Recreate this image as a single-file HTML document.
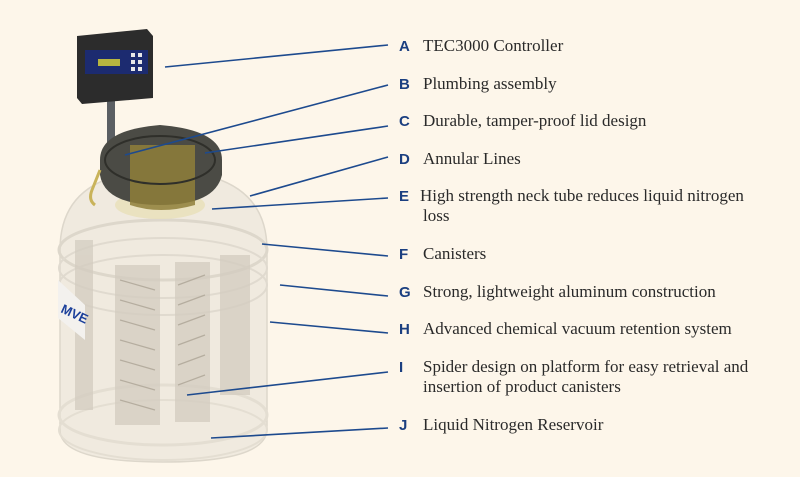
<!DOCTYPE html>
<html><head><meta charset="utf-8"><style>
html,body{margin:0;padding:0;background:#fdf6ea;}
svg{display:block}
.t{font-family:"Liberation Serif",serif;font-size:17px;fill:#2a2a2a}
.l{font-family:"Liberation Sans",sans-serif;font-weight:bold;font-size:15px;fill:#1b3f80}
.c{stroke:#1d4a8e;stroke-width:1.6;fill:none}
</style></head><body>
<svg width="800" height="477" viewBox="0 0 800 477">
<rect width="800" height="477" fill="#fdf6ea"/>
<!-- tank body -->
<path d="M60 250 Q60 195 110 178 L215 178 Q267 195 267 250 L267 430 Q265 462 163 462 Q60 462 60 430 Z" fill="#f0eadf" stroke="#ddd7cb" stroke-width="1.5"/>
<ellipse cx="163" cy="250" rx="104" ry="30" fill="none" stroke="#ddd7cb" stroke-width="3"/>
<ellipse cx="163" cy="268" rx="104" ry="30" fill="none" stroke="#e0dacf" stroke-width="2"/>
<ellipse cx="163" cy="285" rx="104" ry="30" fill="none" stroke="#e0dacf" stroke-width="2"/>
<ellipse cx="163" cy="415" rx="104" ry="30" fill="none" stroke="#e4ded2" stroke-width="3"/>
<ellipse cx="163" cy="430" rx="104" ry="30" fill="none" stroke="#e4ded2" stroke-width="2"/>
<!-- canisters -->
<g fill="#d3ccc0" opacity="0.75">
<rect x="75" y="240" width="18" height="170"/>
<rect x="115" y="265" width="45" height="160"/>
<rect x="175" y="262" width="35" height="160"/>
<rect x="220" y="255" width="30" height="140"/>
</g>
<g stroke="#b5ad9f" stroke-width="1.2">
<line x1="120" y1="280" x2="155" y2="290"/><line x1="120" y1="300" x2="155" y2="310"/><line x1="120" y1="320" x2="155" y2="330"/><line x1="120" y1="340" x2="155" y2="350"/><line x1="120" y1="360" x2="155" y2="370"/><line x1="120" y1="380" x2="155" y2="390"/><line x1="120" y1="400" x2="155" y2="410"/>
<line x1="178" y1="285" x2="205" y2="275"/><line x1="178" y1="305" x2="205" y2="295"/><line x1="178" y1="325" x2="205" y2="315"/><line x1="178" y1="345" x2="205" y2="335"/><line x1="178" y1="365" x2="205" y2="355"/><line x1="178" y1="385" x2="205" y2="375"/>
</g>
<!-- label plate -->
<path d="M58 280 L85 305 L85 340 L58 318 Z" fill="#f3f1ee"/>
<text x="60" y="312" font-family="Liberation Sans" font-weight="bold" font-size="13" fill="#1b3f9a" transform="rotate(25 60 312)">MVE</text>
<!-- pole -->
<rect x="107" y="100" width="8" height="62" fill="#5b5f63"/>
<!-- neck / lid -->
<ellipse cx="160" cy="205" rx="45" ry="14" fill="#e9e0b8" opacity="0.8"/>
<path d="M100 160 Q100 130 160 125 Q222 130 222 160 L222 175 Q215 205 160 205 Q105 205 100 175 Z" fill="#4b4b45"/>
<path d="M130 145 L195 145 L195 205 Q160 215 130 205 Z" fill="#8f7f3a" opacity="0.85"/>
<ellipse cx="160" cy="160" rx="55" ry="24" fill="none" stroke="#2f2f2a" stroke-width="2"/>
<!-- controller -->
<path d="M77 36 L147 29 L153 36 L153 98 L82 104 L77 98 Z" fill="#2c2c2c"/>
<rect x="85" y="50" width="63" height="24" fill="#1c2b70"/>
<rect x="98" y="59" width="22" height="7" fill="#b7b540"/>
<g fill="#e8e8e8"><rect x="131" y="53" width="4" height="4"/><rect x="138" y="53" width="4" height="4"/><rect x="131" y="60" width="4" height="4"/><rect x="138" y="60" width="4" height="4"/><rect x="131" y="67" width="4" height="4"/><rect x="138" y="67" width="4" height="4"/></g>
<path d="M100 170 L92 190 Q88 200 95 205" stroke="#c9b35a" stroke-width="3" fill="none"/>
<!-- connectors -->
<line class="c" x1="165" y1="67" x2="388" y2="45"/>
<line class="c" x1="125" y1="155" x2="388" y2="85"/>
<line class="c" x1="205" y1="153" x2="388" y2="126"/>
<line class="c" x1="250" y1="196" x2="388" y2="157"/>
<line class="c" x1="212" y1="209" x2="388" y2="198"/>
<line class="c" x1="262" y1="244" x2="388" y2="256"/>
<line class="c" x1="280" y1="285" x2="388" y2="296"/>
<line class="c" x1="270" y1="322" x2="388" y2="333"/>
<line class="c" x1="187" y1="395" x2="388" y2="372"/>
<line class="c" x1="211" y1="438" x2="388" y2="428"/>
<!-- labels -->
<text class="l" x="399" y="51">A</text><text class="t" x="423" y="51">TEC3000 Controller</text>
<text class="l" x="399" y="89">B</text><text class="t" x="423" y="89">Plumbing assembly</text>
<text class="l" x="399" y="126">C</text><text class="t" x="423" y="126">Durable, tamper-proof lid design</text>
<text class="l" x="399" y="164">D</text><text class="t" x="423" y="164">Annular Lines</text>
<text class="l" x="399" y="201">E</text><text class="t" x="420" y="201">High strength neck tube reduces liquid nitrogen</text>
<text class="t" x="423" y="221">loss</text>
<text class="l" x="399" y="259">F</text><text class="t" x="423" y="259">Canisters</text>
<text class="l" x="399" y="297">G</text><text class="t" x="423" y="297">Strong, lightweight aluminum construction</text>
<text class="l" x="399" y="334">H</text><text class="t" x="423" y="334">Advanced chemical vacuum retention system</text>
<text class="l" x="399" y="372">I</text><text class="t" x="423" y="372">Spider design on platform for easy retrieval and</text>
<text class="t" x="423" y="392">insertion of product canisters</text>
<text class="l" x="399" y="430">J</text><text class="t" x="423" y="430">Liquid Nitrogen Reservoir</text>
</svg>
</body></html>
